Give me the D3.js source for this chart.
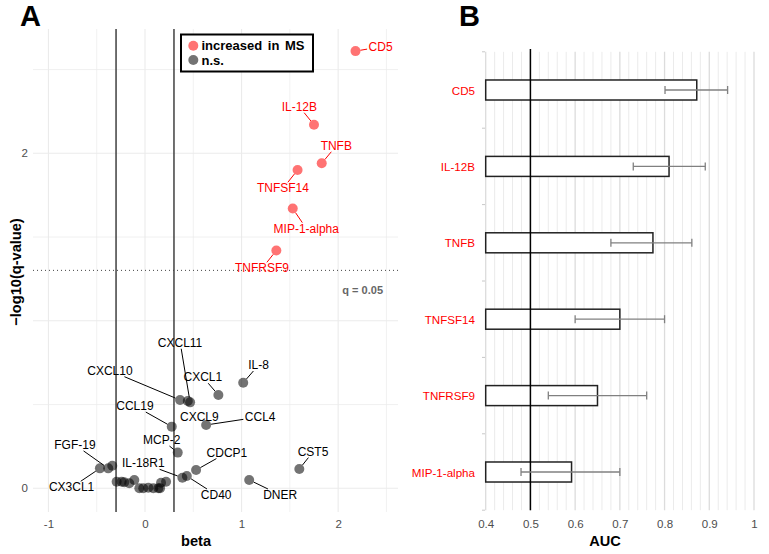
<!DOCTYPE html>
<html>
<head>
<meta charset="utf-8">
<script src="https://cdn.jsdelivr.net/npm/d3@7"></script>
<style>
  body { margin: 0; background: #fff; }
  text { font-family: "Liberation Sans", Arial, sans-serif; }
</style>
</head>
<body>
<div id="chart"></div>
<script>
// ---- panel A data (volcano) ----
let proteins = ['CD5', 'IL-12B', 'TNFB', 'TNFSF14', 'MIP-1-alpha', 'TNFRSF9',
    'CXCL10', 'CXCL11', '', 'CXCL1', 'IL-8', 'CXCL9', 'CCL19', 'MCP-2',
    'IL-18R1', 'CD40', 'CDCP1', 'CST5', 'DNER', 'CX3CL1', 'FGF-19', '',
    '', '', '', '', '', '', '', '', '', '', '', '', ''];
let beta = [2.18, 1.75, 1.83, 1.58, 1.53, 1.36,
    0.363, 0.467, 0.443, 0.76, 1.017, 0.633, 0.277, 0.339,
    0.387, 0.433, 0.529, 1.598, 1.079, -0.467, -0.381, -0.339,
    -0.294, -0.242, -0.215, -0.163, -0.111, -0.059, -0.018, 0.034, 0.086, 0.138, 0.156, 0.166, 0.218];
let negLog10Q = [2.61, 2.17, 1.94, 1.90, 1.67, 1.42,
    0.527, 0.513, 0.521, 0.557, 0.630, 0.378, 0.368, 0.213,
    0.063, 0.073, 0.109, 0.115, 0.050, 0.119, 0.119, 0.135,
    0.039, 0.039, 0.036, 0.030, 0.050, 0.0, 0.0, 0.003, 0.0, 0.0, 0.001, 0.033, 0.039];
let increased = [true, true, true, true, true, true];   // the rest are n.s.

// where ggrepel put the labels (data units) and which point each one points at
let labelNames = ['CD5', 'IL-12B', 'TNFB', 'TNFSF14', 'MIP-1-alpha', 'TNFRSF9',
    'CXCL11', 'CXCL10', 'CXCL1', 'IL-8', 'CCL19', 'CXCL9', 'CCL4', 'MCP-2',
    'FGF-19', 'CX3CL1', 'IL-18R1', 'CD40', 'CDCP1', 'CST5', 'DNER'];
let labelTarget = ['CD5', 'IL-12B', 'TNFB', 'TNFSF14', 'MIP-1-alpha', 'TNFRSF9',
    'CXCL11', 'CXCL10', 'CXCL1', 'IL-8', 'CCL19', 'CXCL9', 'CXCL9', 'MCP-2',
    'FGF-19', 'CX3CL1', 'IL-18R1', 'CD40', 'CDCP1', 'CST5', 'DNER'];
let labelBeta = [2.44, 1.598, 1.981, 1.428, 1.670, 1.211,
    0.363, -0.363, 0.599, 1.175, -0.104, 0.563, 1.193, 0.173,
    -0.726, -0.760, -0.018, 0.737, 0.848, 1.740, 1.400];
let labelQ = [2.636, 2.278, 2.045, 1.791, 1.550, 1.313,
    0.869, 0.702, 0.663, 0.736, 0.491, 0.427, 0.427, 0.288,
    0.259, 0.006, 0.149, -0.040, 0.213, 0.219, -0.040];

let betaTicks = [-1, 0, 1, 2];
let betaGrid = [-1, -0.5, 0, 0.5, 1, 1.5, 2, 2.5];
let qTicks = [0, 2];
let qGrid = [0, 0.5, 1, 1.5, 2, 2.5];
let betaCutoff = 0.3;
let qCutoff = 0.05;

// ---- panel B data (AUC) ----
let aucProteins = ['CD5', 'IL-12B', 'TNFB', 'TNFSF14', 'TNFRSF9', 'MIP-1-alpha'];
let auc = [0.872, 0.810, 0.774, 0.700, 0.650, 0.592];
let aucLow = [0.801, 0.730, 0.680, 0.600, 0.540, 0.479];
let aucHigh = [0.941, 0.891, 0.861, 0.800, 0.760, 0.700];
let aucTicks = [0.4, 0.5, 0.6, 0.7, 0.8, 0.9, 1];

let chart_width = 769;
let chart_height = 554;
let red = '#ff0000';
let r = 5;
let plainNum = d => String(d);

let svg = d3.select('#chart')
    .append('svg')
    .attr('width', chart_width)
    .attr('height', chart_height);

svg.append('rect').attr('width', chart_width).attr('height', chart_height).attr('fill', '#fff');

// ================= panel A =================
let xScale = d3.scaleLinear().domain([-1.16, 2.62]).range([33, 398]);
let yScale = d3.scaleLinear().domain([-0.1415, 2.742]).range([512, 29]);

let gA = svg.append('g');

gA.selectAll('.vgrid')
    .data(betaGrid)
    .enter()
    .append('line')
    .attr('x1', d => xScale(d)).attr('x2', d => xScale(d))
    .attr('y1', 29).attr('y2', 512)
    .attr('stroke', '#ebebeb')
    .attr('stroke-width', d => Number.isInteger(d) ? 1.1 : 0.7);

gA.selectAll('.hgrid')
    .data(qGrid)
    .enter()
    .append('line')
    .attr('x1', 33).attr('x2', 398)
    .attr('y1', d => yScale(d)).attr('y2', d => yScale(d))
    .attr('stroke', '#ebebeb')
    .attr('stroke-width', d => Number.isInteger(d) ? 1.1 : 0.7);

// axes (text only, like theme_minimal)
let xAxis = d3.axisBottom(xScale).tickValues(betaTicks).tickSize(0).tickPadding(0).tickFormat(plainNum);
gA.append('g')
    .attr('transform', 'translate(0,' + 520 + ')')
    .call(xAxis)
    .call(g => g.select('.domain').remove())
    .selectAll('text')
    .attr('font-size', 11.5)
    .attr('fill', '#4d4d4d')
    .attr('font-family', '"Liberation Sans", Arial, sans-serif');

let yAxis = d3.axisLeft(yScale).tickValues(qTicks).tickSize(0).tickPadding(0).tickFormat(plainNum);
gA.append('g')
    .attr('transform', 'translate(' + 28 + ',0)')
    .call(yAxis)
    .call(g => g.select('.domain').remove())
    .selectAll('text')
    .attr('font-size', 11.5)
    .attr('fill', '#4d4d4d')
    .attr('font-family', '"Liberation Sans", Arial, sans-serif');

// cut-off lines
gA.selectAll('.cut')
    .data([-betaCutoff, betaCutoff])
    .enter()
    .append('line')
    .attr('x1', d => xScale(d)).attr('x2', d => xScale(d))
    .attr('y1', 29).attr('y2', 512)
    .attr('stroke', '#333')
    .attr('stroke-width', 1.4);

gA.append('line')
    .attr('x1', 33).attr('x2', 398)
    .attr('y1', yScale(-Math.log10(qCutoff))).attr('y2', yScale(-Math.log10(qCutoff)))
    .attr('stroke', '#444')
    .attr('stroke-width', 1)
    .attr('stroke-dasharray', '1,3');

gA.append('text')
    .attr('x', 383)
    .attr('y', yScale(-Math.log10(qCutoff)) + 24)
    .attr('text-anchor', 'end')
    .attr('font-size', 11)
    .attr('font-weight', 'bold')
    .attr('fill', '#666')
    .text('q = ' + qCutoff);

// points
let pts = proteins.map((p, i) => ({
    name: p, beta: beta[i], q: negLog10Q[i], up: !!increased[i]
}));

let labels = labelNames.map((n, i) => {
    let p = pts.find(d => d.name === labelTarget[i]);
    return { name: n, x: labelBeta[i], y: labelQ[i], p: p };
});

let segG = gA.append('g');
let ptG = gA.append('g');
let labG = gA.append('g');

ptG.selectAll('circle')
    .data(pts.filter(d => !d.up).concat(pts.filter(d => d.up)))
    .enter()
    .append('circle')
    .attr('cx', d => xScale(d.beta))
    .attr('cy', d => yScale(d.q))
    .attr('r', r)
    .attr('fill', d => d.up ? red : '#000')
    .attr('fill-opacity', 0.55);

// labels, with a segment back to the point when the label sits away from it
labG.selectAll('text')
    .data(labels)
    .enter()
    .append('text')
    .attr('x', d => xScale(d.x))
    .attr('y', d => yScale(d.y))
    .attr('text-anchor', 'middle')
    .attr('dominant-baseline', 'central')
    .attr('font-size', 12)
    .attr('fill', d => d.p.up ? red : '#000')
    .text(d => d.name)
    .each(function(d) {
        let b = this.getBBox();
        let cx = b.x + b.width / 2, cy = b.y + b.height / 2;
        let hw = b.width / 2 + 1.5, hh = b.height / 2 - 1;
        let px = xScale(d.p.beta), py = yScale(d.p.q);
        let dx = px - cx, dy = py - cy;
        let t = Math.min(dx === 0 ? Infinity : hw / Math.abs(dx), dy === 0 ? Infinity : hh / Math.abs(dy));
        if (t >= 1) return;
        let ex = cx + t * dx, ey = cy + t * dy;
        let len = Math.hypot(px - ex, py - ey);
        if (len < r + 3) return;
        let sx = px + (ex - px) * (r / len), sy = py + (ey - py) * (r / len);
        segG.append('line')
            .attr('x1', sx).attr('y1', sy)
            .attr('x2', ex).attr('y2', ey)
            .attr('stroke', d.p.up ? red : '#000')
            .attr('stroke-width', 1);
    });

// legend
let leg = gA.append('g');
leg.append('rect')
    .attr('x', 181).attr('y', 34.5)
    .attr('width', 132).attr('height', 37)
    .attr('fill', '#fff')
    .attr('stroke', '#000')
    .attr('stroke-width', 2);
[['increased in MS', red], ['n.s.', '#000']].forEach(function(item, i) {
    leg.append('circle')
        .attr('cx', 193.3).attr('cy', 45.7 + i * 14.3)
        .attr('r', r)
        .attr('fill', item[1])
        .attr('fill-opacity', 0.55);
    leg.append('text')
        .attr('x', 201.5).attr('y', 45.7 + i * 14.3)
        .attr('dominant-baseline', 'central')
        .attr('font-size', 13)
        .attr('font-weight', 'bold')
        .attr('word-spacing', 2)
        .text(item[0]);
});

// titles
svg.append('text')
    .attr('x', 196).attr('y', 546)
    .attr('text-anchor', 'middle')
    .attr('font-size', 14.6)
    .attr('font-weight', 'bold')
    .text('beta');

svg.append('text')
    .attr('transform', 'translate(21,272) rotate(-90)')
    .attr('text-anchor', 'middle')
    .attr('font-size', 14.6)
    .attr('font-weight', 'bold')
    .text('\u2212log10(q-value)');

svg.append('text')
    .attr('x', 20).attr('y', 26)
    .attr('font-size', 29)
    .attr('font-weight', 'bold')
    .text('A');

// ================= panel B =================
let aucScale = d3.scaleLinear().domain([0.4, 1]).range([485.7, 754]);
let bandScale = d3.scaleBand()
    .domain(aucProteins)
    .range([51.8, 510.2])
    .paddingInner(0.738)
    .paddingOuter(0.369);

let gB = svg.append('g');

gB.selectAll('.bgrid')
    .data(d3.range(0, 31).map(i => 0.4 + i * 0.02))
    .enter()
    .append('line')
    .attr('x1', d => aucScale(d)).attr('x2', d => aucScale(d))
    .attr('y1', 51.8).attr('y2', 510.2)
    .attr('stroke', (d, i) => i % 5 === 0 ? '#dcdcdc' : '#ebebeb')
    .attr('stroke-width', (d, i) => i % 5 === 0 ? 1.3 : 1);

// y ticks at band boundaries
let step = bandScale.step();
gB.selectAll('.ytick')
    .data(d3.range(0, aucProteins.length + 1))
    .enter()
    .append('line')
    .attr('x1', 482).attr('x2', 485)
    .attr('y1', i => 51.8 + i * step).attr('y2', i => 51.8 + i * step)
    .attr('stroke', '#c8c8c8')
    .attr('stroke-width', 1);

gB.selectAll('.bar')
    .data(aucProteins)
    .enter()
    .append('rect')
    .attr('x', aucScale(0.4))
    .attr('y', d => bandScale(d))
    .attr('width', (d, i) => aucScale(auc[i]) - aucScale(0.4))
    .attr('height', bandScale.bandwidth())
    .attr('fill', '#fff')
    .attr('stroke', '#222')
    .attr('stroke-width', 1.5);

gB.append('line')
    .attr('x1', aucScale(0.5)).attr('x2', aucScale(0.5))
    .attr('y1', 49).attr('y2', 510.2)
    .attr('stroke', '#000')
    .attr('stroke-width', 1.5);

let err = gB.selectAll('.err')
    .data(aucProteins)
    .enter()
    .append('g')
    .attr('stroke', '#808080')
    .attr('stroke-width', 1.3);
err.append('line')
    .attr('x1', (d, i) => aucScale(aucLow[i]))
    .attr('x2', (d, i) => aucScale(aucHigh[i]))
    .attr('y1', d => bandScale(d) + bandScale.bandwidth() / 2)
    .attr('y2', d => bandScale(d) + bandScale.bandwidth() / 2);
[aucLow, aucHigh].forEach(function(arr) {
    err.append('line')
        .attr('x1', (d, i) => aucScale(arr[i]))
        .attr('x2', (d, i) => aucScale(arr[i]))
        .attr('y1', d => bandScale(d) + bandScale.bandwidth() / 2 - 4)
        .attr('y2', d => bandScale(d) + bandScale.bandwidth() / 2 + 4);
});

gB.selectAll('.cat')
    .data(aucProteins)
    .enter()
    .append('text')
    .attr('x', 475)
    .attr('y', d => bandScale(d) + bandScale.bandwidth() / 2)
    .attr('text-anchor', 'end')
    .attr('dominant-baseline', 'central')
    .attr('font-size', 11.6)
    .attr('fill', red)
    .text(d => d);

let aucAxis = d3.axisBottom(aucScale).tickValues(aucTicks).tickSize(0).tickPadding(0)
    .tickFormat(plainNum);
gB.append('g')
    .attr('transform', 'translate(0,' + 520 + ')')
    .call(aucAxis)
    .call(g => g.select('.domain').remove())
    .selectAll('text')
    .attr('font-size', 11.5)
    .attr('fill', '#4d4d4d')
    .attr('font-family', '"Liberation Sans", Arial, sans-serif');

svg.append('text')
    .attr('x', 605).attr('y', 546)
    .attr('text-anchor', 'middle')
    .attr('font-size', 14.6)
    .attr('font-weight', 'bold')
    .text('AUC');

svg.append('text')
    .attr('x', 459).attr('y', 26)
    .attr('font-size', 29)
    .attr('font-weight', 'bold')
    .text('B');
</script>
</body>
</html>
